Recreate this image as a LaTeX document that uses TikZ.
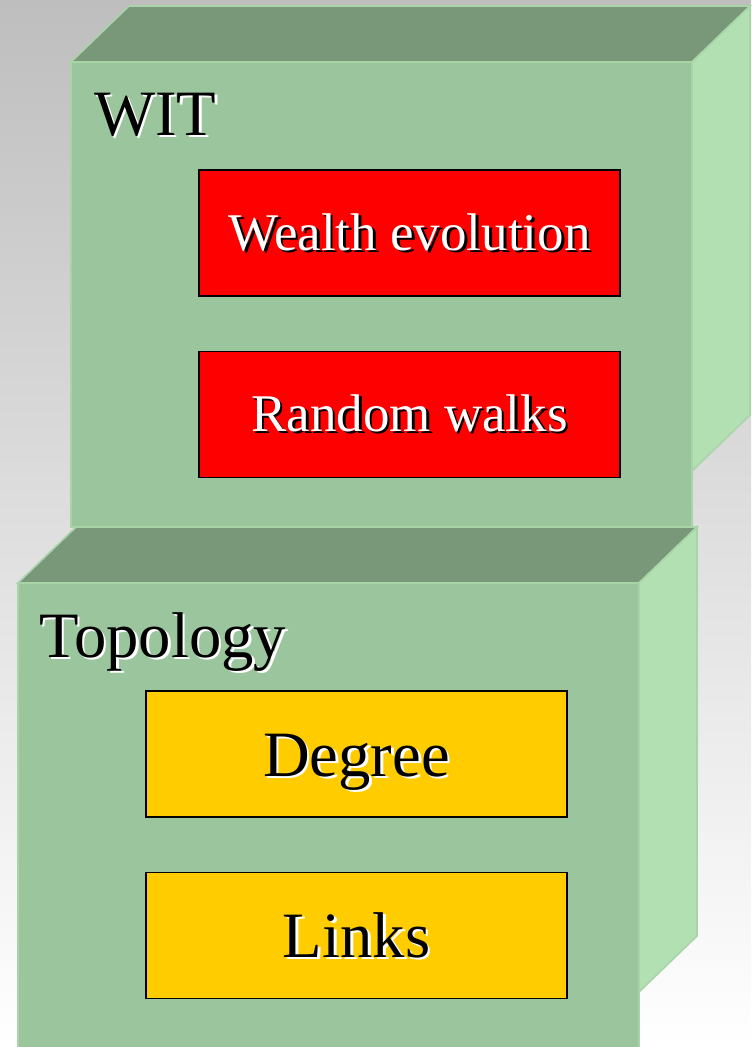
\documentclass[tikz,border=0pt]{standalone}
\usepackage{fontspec}
\setmainfont{Liberation Serif}
\usepackage{xcolor}
\usepackage{tikz}
\usetikzlibrary{positioning}
\definecolor{StackFront}{RGB}{155,197,157}
\definecolor{StackTop}{RGB}{121,152,122}
\definecolor{StackSide}{RGB}{179,224,179}
\definecolor{StackEdge}{RGB}{168,212,168}
\definecolor{StackRed}{RGB}{255,0,0}
\definecolor{StackGold}{RGB}{255,204,0}
\definecolor{StackBack}{RGB}{190,190,190}

% text with a small offset shadow: #1 text, #2 colour, #3 shadow colour
\newcommand{\shadowtext}[3]{\makebox[0pt][l]{\hspace{2pt}\raisebox{-2pt}{\color{#3}#1}}{\color{#2}#1}}

\begin{document}
\begin{tikzpicture}[x=0.75pt, y=-0.75pt,
    face/.style={draw=StackEdge, line width=1.2pt, line join=miter},
    item/.style={draw=black, line width=0.8pt, minimum width=315.75pt,
      minimum height=94.5pt, inner sep=0pt, align=center, text depth=0pt},
    reditem/.style={item, fill=StackRed, text height=25.5pt,
      font=\fontsize{39.75}{42}\selectfont},
    golditem/.style={item, fill=StackGold, text height=33pt,
      font=\fontsize{48.5}{50}\selectfont},
    heading/.style={anchor=base west, inner sep=0pt,
      font=\fontsize{48.5}{50}\selectfont},
    node distance=40.5pt
  ]
    \useasboundingbox (0,0) rectangle (751,1047);
    \shade[top color=StackBack, bottom color=white] (0,0) rectangle (751,1047);

    % the two stacked blocks
    \foreach \bx/\by in {71/62, 18/583} {
      \fill[StackTop, face] (\bx,\by) -- ++(58,-56) -- ++(621,0) -- ++(-58,56) -- cycle;
      \fill[StackSide, face] (\bx+621,\by) -- ++(58,-56) -- ++(0,409) -- ++(-58,56) -- cycle;
      \fill[StackFront, face] (\bx,\by) rectangle ++(621,465);
    }

    % upper block
    \node[heading] (wit) at (94,135) {\shadowtext{WIT}{black}{white}};
    \node[reditem] (wealth) at (409.5,233)
      {\shadowtext{Wealth evolution}{white}{black}};
    \node[reditem, below=of wealth] (walks)
      {\shadowtext{Random walks}{white}{black}};

    % lower block
    \node[heading] (topology) at (39,657) {\shadowtext{Topology}{black}{white}};
    \node[golditem] (degree) at (356.5,754)
      {\shadowtext{Degree}{black}{white}};
    \node[golditem, below=of degree] (links)
      {\shadowtext{Links}{black}{white}};
  \end{tikzpicture}
\end{document}
